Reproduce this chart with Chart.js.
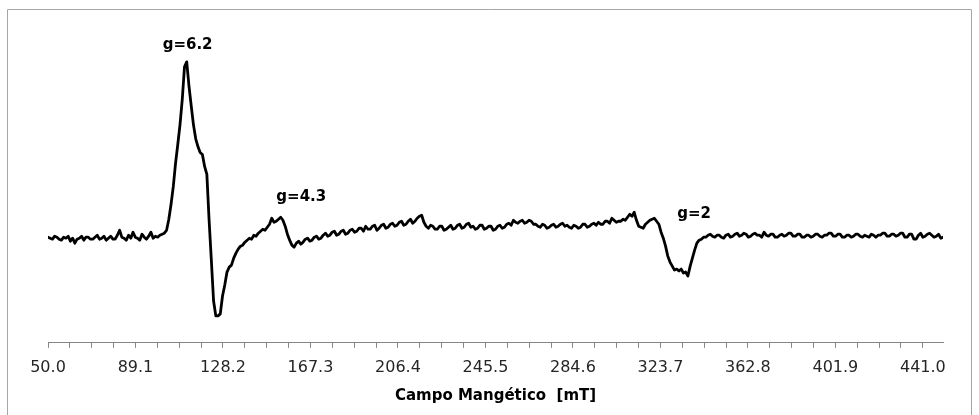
<!DOCTYPE html>
<html>
<head>
<meta charset="utf-8">
<title>Espectro EPR</title>
<script src="https://cdn.jsdelivr.net/npm/chart.js@4"></script>
<style>
  html, body { margin: 0; padding: 0; background: #ffffff; }
  #wrap { width: 979px; height: 415px; }
</style>
</head>
<body>
<div id="wrap"><canvas id="epr" width="979" height="415"></canvas></div>
<script>
// Campo magnético (mT), um ponto por mT
const field = [
   50,  51,  52,  53,  54,  55,  56,  57,  58,  59,
   60,  61,  62,  63,  64,  65,  66,  67,  68,  69,
   70,  71,  72,  73,  74,  75,  76,  77,  78,  79,
   80,  81,  82,  83,  84,  85,  86,  87,  88,  89,
   90,  91,  92,  93,  94,  95,  96,  97,  98,  99,
  100, 101, 102, 103, 104, 105, 106, 107, 108, 109,
  110, 111, 112, 113, 114, 115, 116, 117, 118, 119,
  120, 121, 122, 123, 124, 125, 126, 127, 128, 129,
  130, 131, 132, 133, 134, 135, 136, 137, 138, 139,
  140, 141, 142, 143, 144, 145, 146, 147, 148, 149,
  150, 151, 152, 153, 154, 155, 156, 157, 158, 159,
  160, 161, 162, 163, 164, 165, 166, 167, 168, 169,
  170, 171, 172, 173, 174, 175, 176, 177, 178, 179,
  180, 181, 182, 183, 184, 185, 186, 187, 188, 189,
  190, 191, 192, 193, 194, 195, 196, 197, 198, 199,
  200, 201, 202, 203, 204, 205, 206, 207, 208, 209,
  210, 211, 212, 213, 214, 215, 216, 217, 218, 219,
  220, 221, 222, 223, 224, 225, 226, 227, 228, 229,
  230, 231, 232, 233, 234, 235, 236, 237, 238, 239,
  240, 241, 242, 243, 244, 245, 246, 247, 248, 249,
  250, 251, 252, 253, 254, 255, 256, 257, 258, 259,
  260, 261, 262, 263, 264, 265, 266, 267, 268, 269,
  270, 271, 272, 273, 274, 275, 276, 277, 278, 279,
  280, 281, 282, 283, 284, 285, 286, 287, 288, 289,
  290, 291, 292, 293, 294, 295, 296, 297, 298, 299,
  300, 301, 302, 303, 304, 305, 306, 307, 308, 309,
  310, 311, 312, 313, 314, 315, 316, 317, 318, 319,
  320, 321, 322, 323, 324, 325, 326, 327, 328, 329,
  330, 331, 332, 333, 334, 335, 336, 337, 338, 339,
  340, 341, 342, 343, 344, 345, 346, 347, 348, 349,
  350, 351, 352, 353, 354, 355, 356, 357, 358, 359,
  360, 361, 362, 363, 364, 365, 366, 367, 368, 369,
  370, 371, 372, 373, 374, 375, 376, 377, 378, 379,
  380, 381, 382, 383, 384, 385, 386, 387, 388, 389,
  390, 391, 392, 393, 394, 395, 396, 397, 398, 399,
  400, 401, 402, 403, 404, 405, 406, 407, 408, 409,
  410, 411, 412, 413, 414, 415, 416, 417, 418, 419,
  420, 421, 422, 423, 424, 425, 426, 427, 428, 429,
  430, 431, 432, 433, 434, 435, 436, 437, 438, 439,
  440, 441, 442, 443, 444, 445, 446, 447, 448, 449,
  450
];

// Intensidade da derivada (u.a.)
const signal = [
   -1,  -2,  -3,   0,  -1,  -3,  -4,  -1,  -2,   0,
   -5,  -2,  -7,  -3,  -2,   0,  -4,  -1,  -1,  -3,
   -3,  -1,   1,  -3,  -2,   0,  -4,  -2,   0,  -3,
   -3,   1,   6,  -1,  -2,  -4,   1,  -2,   4,  -1,
   -2,  -4,   2,  -1,  -3,   0,   4,  -2,   0,  -1,
    1,   2,   3,   6,  17,  32,  50,  73,  92, 112,
  137, 170, 175, 151, 131, 112,  98,  90,  84,  82,
   70,  62,  16, -24, -65, -80, -80, -78, -60, -49,
  -36, -31, -29, -22, -17, -13, -10,  -9,  -6,  -4,
   -2,  -3,   1,   0,   3,   5,   7,   6,   9,  12,
   18,  14,  15,  17,  19,  16,  10,   2,  -4,  -9,
  -11,  -7,  -5,  -8,  -6,  -3,  -2,  -5,  -4,  -1,
    0,  -3,  -2,   1,   3,   0,   1,   4,   5,   1,
    2,   5,   6,   2,   3,   6,   7,   4,   5,   8,
    8,   5,  10,   7,   7,  10,  11,   6,   8,  11,
   12,   8,   9,  12,  13,  10,  11,  14,  15,  11,
   12,  15,  17,  13,  15,  18,  20,  21,  14,  10,
    8,  11,  10,   7,   7,  10,  10,   6,   7,   9,
   11,   7,   8,  11,  12,   8,   9,  12,  13,   9,
   10,   7,   8,  11,  11,   7,   8,  10,  10,   6,
    7,  10,  11,   8,   9,  12,  13,  11,  16,  14,
   13,  15,  16,  13,  14,  16,  15,  12,  12,  10,
    9,  12,  11,   8,   9,  11,  12,   9,  10,  12,
   13,  10,  11,   9,   8,  11,  10,   8,   9,  12,
   12,   9,  10,  12,  13,  11,  14,  12,  12,  15,
   15,  13,  18,  16,  14,  15,  15,  17,  16,  19,
   22,  20,  24,  16,  10,   9,   8,  12,  14,  16,
   17,  18,  15,  12,   4,  -2, -10, -20, -26, -30,
  -34, -33, -35, -33, -37, -36, -40, -30, -22, -14,
   -7,  -4,  -3,  -1,  -1,   1,   2,   0,  -1,   1,
    1,  -1,  -2,   1,   2,  -1,   0,   2,   3,   0,
    1,   3,   2,  -1,   0,   2,   3,   1,   1,  -1,
    4,   1,   0,   2,   2,  -1,  -1,   1,   2,   0,
    1,   3,   3,   0,   0,   2,   2,  -1,  -1,   1,
    1,  -1,   0,   2,   2,   0,  -1,   1,   1,   3,
    3,   0,   0,   2,   2,  -1,  -1,   1,   1,  -1,
    0,   2,   2,   0,  -1,   1,   0,  -1,   2,   1,
   -1,   1,   1,   3,   3,   0,   0,   2,   2,   0,
    1,   3,   3,  -1,  -1,   2,   2,  -3,  -3,   1,
    3,  -1,   0,   2,   3,   1,  -1,   0,   2,  -2,
   -1
];

// Rótulos principais do eixo X (mT)
const tickLabels = ['50.0', '89.1', '128.2', '167.3', '206.4', '245.5',
                    '284.6', '323.7', '362.8', '401.9', '441.0'];

// Linhas de ressonância identificadas
const peakLabels = ['g=6.2', 'g=4.3', 'g=2'];
const peakFields = [112.4, 163.2, 338.8];
const peakLevels = [192, 39, 22];

// Marcas do eixo: as principais e três subdivisões entre cada par
const majorValues = tickLabels.map(Number);
const tickValues = [];
majorValues.forEach((v, i) => {
  tickValues.push(v);
  if (i < majorValues.length - 1) {
    const step = (majorValues[i + 1] - v) / 4;
    for (let k = 1; k < 4; k++) tickValues.push(v + k * step);
  }
});

const frame = {
  id: 'frame',
  beforeDraw(chart) {
    const ctx = chart.ctx;
    ctx.save();
    ctx.fillStyle = '#ffffff';
    ctx.fillRect(0, 0, chart.width, chart.height);
    ctx.strokeStyle = '#a6a6a6';
    ctx.lineWidth = 1;
    ctx.beginPath();
    ctx.moveTo(7.5, chart.height + 2);
    ctx.lineTo(7.5, 9.5);
    ctx.lineTo(971.5, 9.5);
    ctx.lineTo(971.5, chart.height + 2);
    ctx.stroke();
    ctx.restore();
  }
};

const peakText = {
  id: 'peakText',
  afterDatasetsDraw(chart) {
    const ctx = chart.ctx;
    const xs = chart.scales.x, ys = chart.scales.y;
    ctx.save();
    ctx.font = 'bold 15px "DejaVu Sans"';
    ctx.fillStyle = '#000000';
    ctx.textAlign = 'center';
    ctx.textBaseline = 'middle';
    peakLabels.forEach((t, i) => {
      ctx.fillText(t, xs.getPixelForValue(peakFields[i]), ys.getPixelForValue(peakLevels[i]));
    });
    ctx.restore();
  }
};

new Chart(document.getElementById('epr'), {
  type: 'line',
  data: {
    datasets: [{
      data: field.map((x, i) => ({ x: x, y: signal[i] })),
      borderColor: '#000000',
      borderWidth: 2.8,
      borderJoinStyle: 'round',
      borderCapStyle: 'round',
      pointRadius: 0,
      tension: 0,
      fill: false
    }]
  },
  options: {
    responsive: false,
    animation: false,
    events: [],
    layout: { padding: { left: 48, right: 36, top: 20, bottom: 6 } },
    plugins: { legend: { display: false }, tooltip: { enabled: false } },
    scales: {
      x: {
        type: 'linear',
        min: 50,
        max: 450,
        afterBuildTicks(axis) {
          axis.ticks = tickValues.map(v => ({ value: v }));
        },
        ticks: {
          autoSkip: false,
          maxRotation: 0,
          minRotation: 0,
          padding: 10,
          color: '#262626',
          font: { family: '"DejaVu Sans"', size: 16 },
          callback(value, index) {
            return index % 4 === 0 ? tickLabels[index / 4] : '';
          }
        },
        grid: {
          display: true,
          drawOnChartArea: false,
          drawTicks: true,
          tickLength: 5,
          color: '#868686',
          lineWidth: 1
        },
        border: { display: true, color: '#868686', width: 1 },
        title: {
          display: true,
          text: 'Campo Mangético  [mT]',
          color: '#000000',
          font: { family: '"DejaVu Sans"', size: 15, weight: 'bold' },
          padding: { top: 0, bottom: 4 }
        }
      },
      y: {
        display: false,
        min: -107,
        max: 217
      }
    }
  },
  plugins: [frame, peakText]
});
</script>
</body>
</html>
